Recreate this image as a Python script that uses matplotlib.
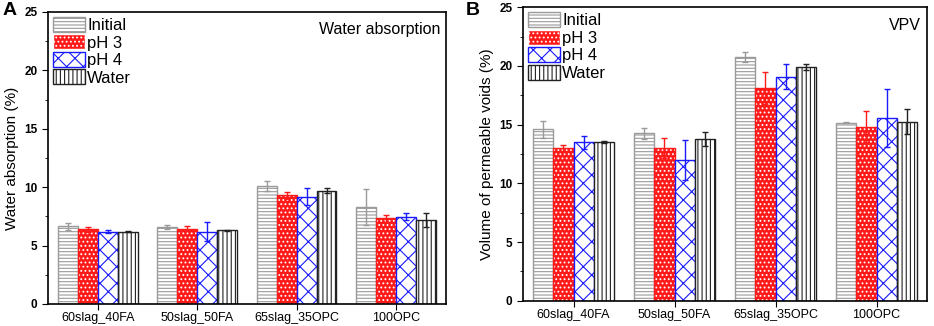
import numpy as np
import matplotlib.pyplot as plt
from matplotlib.patches import Patch
from matplotlib.ticker import MultipleLocator

plt.rcParams['font.family'] = ['Liberation Sans', 'DejaVu Sans']
plt.rcParams['hatch.linewidth'] = 0.8

# data
groups = ['60slag_40FA', '50slag_50FA', '65slag_35OPC', '100OPC']
series = ['Initial', 'pH 3', 'pH 4', 'Water']

wa_mean = {
    'Initial': [6.65, 6.6, 10.1, 8.3],
    'pH 3': [6.4, 6.45, 9.3, 7.35],
    'pH 4': [6.2, 6.2, 9.2, 7.45],
    'Water': [6.2, 6.3, 9.7, 7.15],
}
wa_err = {
    'Initial': [0.3, 0.2, 0.4, 1.5],
    'pH 3': [0.2, 0.2, 0.3, 0.3],
    'pH 4': [0.1, 0.85, 0.7, 0.3],
    'Water': [0.05, 0.05, 0.2, 0.6],
}
vpv_mean = {
    'Initial': [14.6, 14.25, 20.75, 15.15],
    'pH 3': [13.0, 13.0, 18.1, 14.8],
    'pH 4': [13.5, 12.0, 19.1, 15.55],
    'Water': [13.55, 13.75, 19.95, 15.25],
}
vpv_err = {
    'Initial': [0.7, 0.45, 0.45, 0.05],
    'pH 3': [0.3, 0.85, 1.35, 1.35],
    'pH 4': [0.55, 1.7, 1.1, 2.45],
    'Water': [0.1, 0.6, 0.25, 1.05],
}

# face, hatch, hatch colour, edge colour
styles = {
    'Initial': ('white', '-----', '#9a9a9a', '#9a9a9a'),
    'pH 3': ('#ff1a1a', '....', 'white', '#ff1a1a'),
    'pH 4': ('white', 'xx', '#1a1aff', '#1a1aff'),
    'Water': ('white', '||||', '#222222', '#222222'),
}

fig = plt.figure(figsize=(9.34, 3.26), dpi=100)
ax_a = fig.add_axes([0.0514, 0.0675, 0.426, 0.896])
ax_b = fig.add_axes([0.56, 0.0776, 0.4325, 0.9])

x = np.arange(len(groups))
w = 0.2


def draw(ax, means, errs, ylabel, title):
    for i, s in enumerate(series):
        face, hatch, hcol, ecol = styles[s]
        pos = x + (i - 1.5) * w
        ax.bar(pos, means[s], w, color=face, edgecolor=hcol, hatch=hatch, linewidth=0)
        ax.bar(pos, means[s], w, fill=False, edgecolor=ecol, linewidth=1.0)
        ax.errorbar(pos, means[s], yerr=errs[s], fmt='none', ecolor=ecol,
                    elinewidth=1.0, capsize=2.5, capthick=1.0)
    ax.set_xlim(-0.5, 3.5)
    ax.set_ylim(0, 25)
    ax.set_xticks(x)
    ax.set_xticklabels(groups, fontsize=9)
    ax.yaxis.set_major_locator(MultipleLocator(5))
    ax.yaxis.set_minor_locator(MultipleLocator(2.5))
    ax.tick_params(axis='y', which='major', direction='out', length=4, labelsize=8.5)
    ax.tick_params(axis='y', which='minor', direction='out', length=2)
    ax.tick_params(axis='x', direction='out', length=4, pad=2)
    for lbl in ax.get_yticklabels():
        lbl.set_fontweight('bold')
    ax.set_ylabel(ylabel, fontsize=11, labelpad=4)
    for sp in ax.spines.values():
        sp.set_linewidth(1.2)
    ax.text(0.985, 0.965, title, transform=ax.transAxes, ha='right', va='top', fontsize=11.5)
    handles = []
    for s in series:
        face, hatch, hcol, ecol = styles[s]
        handles.append(Patch(facecolor=face, edgecolor=hcol, hatch=hatch, linewidth=1.0))
    leg = ax.legend(handles, series, loc='upper left', frameon=False, fontsize=12,
                    handlelength=1.9, handleheight=1.0, labelspacing=0.08,
                    handletextpad=0.15, borderaxespad=0.2, borderpad=0.1)
    for h, s in zip(leg.legend_handles, series):
        h.set_edgecolor(styles[s][2])


draw(ax_a, wa_mean, wa_err, 'Water absorption (%)', 'Water absorption')
draw(ax_b, vpv_mean, vpv_err, 'Volume of permeable voids (%)', 'VPV')

fig.text(0.003, 0.995, 'A', fontsize=14, fontweight='bold', va='top', ha='left')
fig.text(0.499, 0.995, 'B', fontsize=14, fontweight='bold', va='top', ha='left')

fig.savefig('out.png', dpi=100)
